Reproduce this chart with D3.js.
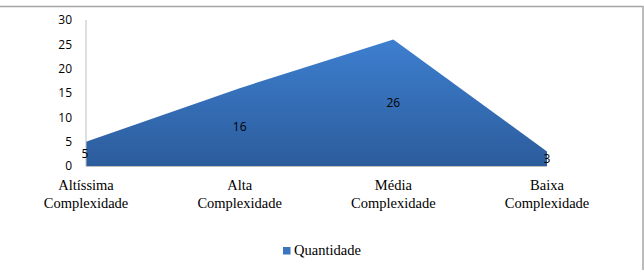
<!DOCTYPE html>
<html>
<head>
<meta charset="utf-8">
<script src="https://cdn.jsdelivr.net/npm/d3@7"></script>
<style>
  body { margin: 0; background: #fff; }
  svg { display: block; }
  .serif { font-family: "Liberation Serif", "Times New Roman", "DejaVu Serif", serif; }
  .sans { font-family: "Open Sans", "Liberation Sans", sans-serif; }
</style>
</head>
<body>
<div id="chart"></div>
<script>
const categories = [['Altíssima', 'Complexidade'], ['Alta', 'Complexidade'], ['Média', 'Complexidade'], ['Baixa', 'Complexidade']];
const values = [5, 16, 26, 3];
const yTicks = [0, 5, 10, 15, 20, 25, 30];
const seriesName = 'Quantidade';

const width = 644;
const height = 270;
const margin = { top: 20, left: 86, bottom: 104, right: 97 };
const iwidth = width - margin.left - margin.right;
const iheight = height - margin.top - margin.bottom;

const svg = d3.select('#chart').append('svg')
  .attr('width', width)
  .attr('height', height);

// outer frame
svg.append('rect')
  .attr('x', -1).attr('y', 6.5)
  .attr('width', 644).attr('height', 280)
  .attr('fill', 'none')
  .attr('stroke', '#a6a6a6')
  .attr('stroke-width', 1.5);

const defs = svg.append('defs');
const grad = defs.append('linearGradient')
  .attr('id', 'fillGrad')
  .attr('x1', 0).attr('y1', 0).attr('x2', 0).attr('y2', 1);
grad.append('stop').attr('offset', '0%').attr('stop-color', '#3d7fcf');
grad.append('stop').attr('offset', '100%').attr('stop-color', '#2c5c9c');

const g = svg.append('g')
  .attr('transform', `translate(${margin.left},${margin.top})`);

const idx = d3.range(values.length);
const x = d3.scalePoint().domain(idx).range([0, iwidth]);
const y = d3.scaleLinear().domain([0, 30]).range([iheight, 0]);

const area = d3.area()
  .x((d, i) => x(i))
  .y0(y(0))
  .y1((d) => y(d));

g.append('path')
  .datum(values)
  .attr('d', area)
  .attr('fill', 'url(#fillGrad)');

// y axis line
g.append('line')
  .attr('x1', 0).attr('x2', 0)
  .attr('y1', y(30)).attr('y2', y(0))
  .attr('stroke', '#bfbfbf');

// x axis line
g.append('line')
  .attr('x1', 0).attr('x2', iwidth)
  .attr('y1', y(0) + 0.5).attr('y2', y(0) + 0.5)
  .attr('stroke', '#bfbfbf');

// y tick labels
g.selectAll('.ytick')
  .data(yTicks)
  .enter()
  .append('text')
  .attr('class', 'ytick sans')
  .attr('x', -14)
  .attr('y', (d) => y(d))
  .attr('dy', '0.35em')
  .attr('text-anchor', 'end')
  .style('font-size', '12px')
  .style('fill', '#000')
  .text((d) => d);

// category labels
const cat = g.selectAll('.cat')
  .data(categories)
  .enter()
  .append('text')
  .attr('class', 'cat serif')
  .attr('text-anchor', 'middle')
  .attr('transform', (d, i) => `translate(${x(i)},${iheight + 24})`)
  .style('font-size', '14.5px')
  .style('fill', '#000');
cat.selectAll('tspan')
  .data((d) => d)
  .enter()
  .append('tspan')
  .attr('x', 0)
  .attr('dy', (d, j) => (j === 0 ? 0 : 18))
  .text((d) => d);

// data labels
g.selectAll('.lbl')
  .data(values)
  .enter()
  .append('text')
  .attr('class', 'lbl sans')
  .attr('x', (d, i) => x(i) + (i === 0 ? -1 : 0))
  .attr('y', (d) => (y(d) + y(0)) / 2)
  .attr('dy', '0.35em')
  .attr('text-anchor', 'middle')
  .style('font-size', '12px')
  .style('fill', '#000')
  .text((d) => d);

// legend
const legend = svg.append('g').attr('transform', 'translate(283,250.5)');
legend.append('rect')
  .attr('x', 0).attr('y', -3.5)
  .attr('width', 7.5).attr('height', 7.5)
  .attr('fill', '#3a76c0');
legend.append('text')
  .attr('class', 'serif')
  .attr('x', 11)
  .attr('y', 4.5)
  .style('font-size', '14.5px')
  .style('fill', '#000')
  .text(seriesName);
</script>
</body>
</html>
